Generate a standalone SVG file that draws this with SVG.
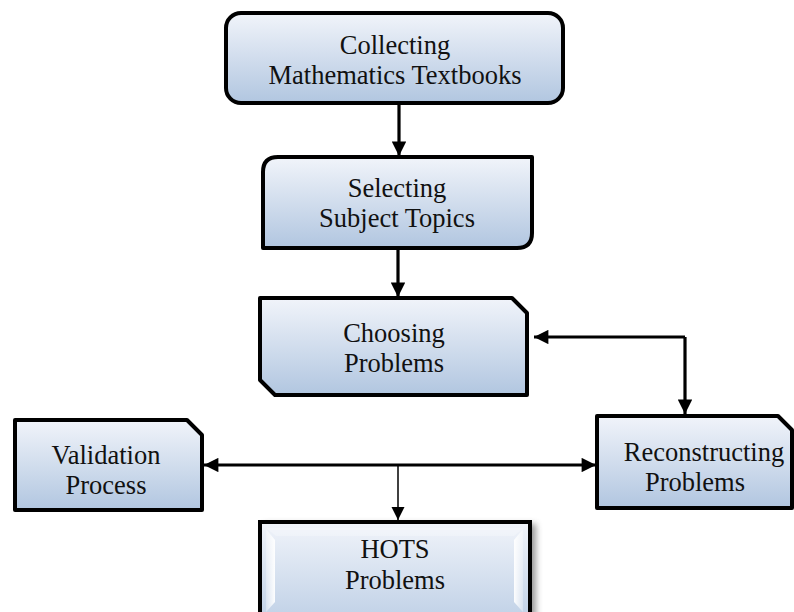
<svg xmlns="http://www.w3.org/2000/svg" width="794" height="612" viewBox="0 0 794 612">
<defs>
<linearGradient id="g" x1="0" y1="0" x2="0" y2="1">
<stop offset="0" stop-color="#f1f4fa"/>
<stop offset="1" stop-color="#b1c6e0"/>
</linearGradient>
<linearGradient id="gh" x1="0" y1="0" x2="0" y2="1">
<stop offset="0" stop-color="#f1f4fa"/>
<stop offset="1" stop-color="#bfd0e6"/>
</linearGradient>
<linearGradient id="wl" x1="0" y1="0" x2="1" y2="0">
<stop offset="0" stop-color="#ffffff" stop-opacity="0.3"/>
<stop offset="1" stop-color="#ffffff" stop-opacity="0.95"/>
</linearGradient>
<linearGradient id="wr" x1="0" y1="0" x2="1" y2="0">
<stop offset="0" stop-color="#ffffff" stop-opacity="0.95"/>
<stop offset="1" stop-color="#ffffff" stop-opacity="0.3"/>
</linearGradient>
<filter id="sh" x="-10%" y="-10%" width="120%" height="120%">
<feGaussianBlur stdDeviation="3"/>
</filter>
<marker id="ah" viewBox="0 0 10 10" refX="10" refY="5" markerWidth="5" markerHeight="4.5" orient="auto" markerUnits="strokeWidth">
<path d="M0,0 L10,5 L0,10 z" fill="#000"/>
</marker>
<marker id="ahs" viewBox="0 0 10 10" refX="10" refY="5" markerWidth="9" markerHeight="9" orient="auto" markerUnits="strokeWidth">
<path d="M0,0 L10,5 L0,10 z" fill="#000"/>
</marker>
</defs>
<style>
.box{fill:url(#g);stroke:#000;stroke-width:4;stroke-linejoin:round}
.t{font-family:"Liberation Serif","Times New Roman",serif;font-size:26.5px;fill:#111;text-anchor:middle}
.c{stroke:#000;stroke-width:3.2;fill:none}
.cs{stroke:#000;stroke-width:1.5;fill:none}
</style>
<g id="connectors">
<line class="c" x1="399" y1="104" x2="399" y2="156" marker-end="url(#ah)"/>
<line class="c" x1="398" y1="249" x2="398" y2="297" marker-end="url(#ah)"/>
<path class="c" d="M685,337 L534,337" marker-end="url(#ah)"/>
<path class="c" d="M685,337 L685,414" marker-end="url(#ah)"/>
<line class="c" x1="400" y1="465" x2="204" y2="465" marker-end="url(#ah)"/>
<line class="c" x1="400" y1="465" x2="596" y2="465" marker-end="url(#ah)"/>
<line class="cs" x1="398" y1="465" x2="398" y2="520" marker-end="url(#ahs)"/>
</g>
<g id="collecting">
<rect class="box" x="226" y="13" width="337" height="90" rx="15"/>
<text class="t" x="395" y="54">Collecting</text>
<text class="t" x="395" y="84">Mathematics Textbooks</text>
</g>
<g id="selecting">
<path class="box" d="M278,157 L532,157 L532,233 Q532,248 517,248 L263,248 L263,172 Q263,157 278,157 z"/>
<text class="t" x="397" y="197">Selecting</text>
<text class="t" x="397" y="227">Subject Topics</text>
</g>
<g id="choosing">
<path class="box" d="M260,298 L512,298 L527,313 L527,395 L275,395 L260,380 z"/>
<text class="t" x="394" y="342">Choosing</text>
<text class="t" x="394" y="372">Problems</text>
</g>
<g id="validation">
<path class="box" d="M15,420 L187,420 L202,435 L202,510 L15,510 z"/>
<text class="t" x="106" y="464">Validation</text>
<text class="t" x="106" y="494">Process</text>
</g>
<g id="reconstructing">
<path class="box" d="M597,416 L778,416 L792,430 L792,508 L597,508 z"/>
<text class="t" x="704" y="461">Reconstructing</text>
<text class="t" x="695" y="491">Problems</text>
</g>
<g id="hots">
<rect x="264" y="524" width="272" height="100" fill="#555" opacity="0.6" filter="url(#sh)"/>
<rect x="260" y="522" width="270" height="100" fill="url(#gh)" stroke="#000" stroke-width="4"/>
<path d="M266,529 L275,540 L275,602 L266,612 z" fill="url(#wl)"/>
<path d="M523,529 L514,540 L514,602 L523,612 z" fill="url(#wr)"/>
<path d="M266,528 L524,528 L514,536 L276,536 z" fill="#ffffff" opacity="0.25"/>
<text class="t" x="395" y="558">HOTS</text>
<text class="t" x="395" y="589">Problems</text>
</g>
</svg>
